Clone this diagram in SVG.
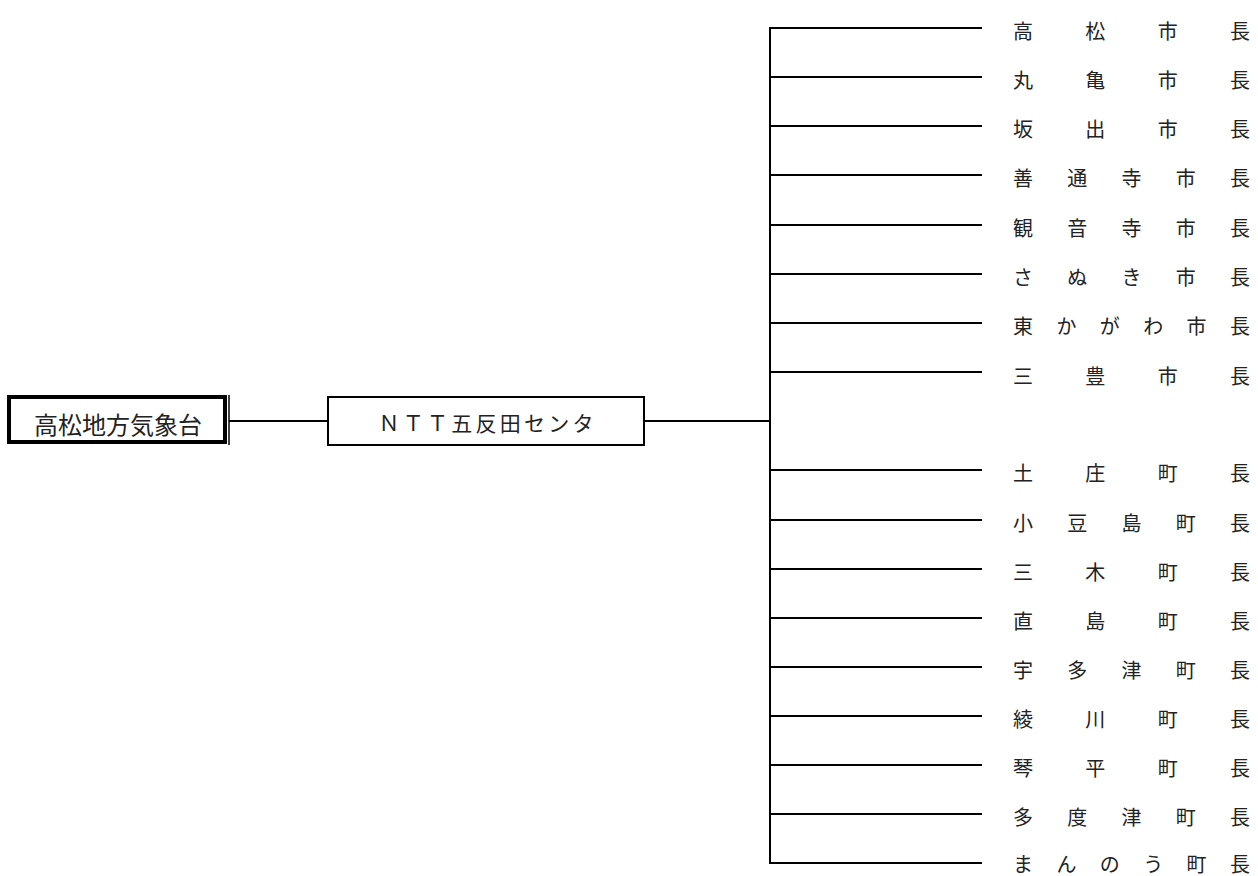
<svg xmlns="http://www.w3.org/2000/svg" width="1258" height="876" viewBox="0 0 1258 876">
<style>
.ln{stroke:#000;stroke-width:2;fill:none}
.lbl{font-family:"Noto Sans CJK JP","Noto Sans CJK SC",sans-serif;font-size:20px;fill:#222;text-anchor:middle;dominant-baseline:central}
.box{font-family:"Noto Sans CJK JP","Noto Sans CJK SC",sans-serif;fill:#222;dominant-baseline:central;text-anchor:middle}
</style>
<rect width="1258" height="876" fill="#fff"/>
<g id="connectors">
<line class="ln" x1="229" y1="421" x2="328" y2="421"/>
<line class="ln" x1="644" y1="421" x2="771" y2="421"/>
<line class="ln" x1="770" y1="27" x2="770" y2="864"/>
<line class="ln" x1="769" y1="28" x2="982" y2="28"/>
<line class="ln" x1="769" y1="77" x2="982" y2="77"/>
<line class="ln" x1="769" y1="126" x2="982" y2="126"/>
<line class="ln" x1="769" y1="175" x2="982" y2="175"/>
<line class="ln" x1="769" y1="225" x2="982" y2="225"/>
<line class="ln" x1="769" y1="274" x2="982" y2="274"/>
<line class="ln" x1="769" y1="323" x2="982" y2="323"/>
<line class="ln" x1="769" y1="372" x2="982" y2="372"/>
<line class="ln" x1="769" y1="470" x2="982" y2="470"/>
<line class="ln" x1="769" y1="520" x2="982" y2="520"/>
<line class="ln" x1="769" y1="569" x2="982" y2="569"/>
<line class="ln" x1="769" y1="618" x2="982" y2="618"/>
<line class="ln" x1="769" y1="667" x2="982" y2="667"/>
<line class="ln" x1="769" y1="716" x2="982" y2="716"/>
<line class="ln" x1="769" y1="765" x2="982" y2="765"/>
<line class="ln" x1="769" y1="814" x2="982" y2="814"/>
<line class="ln" x1="769" y1="863" x2="982" y2="863"/>
</g>
<g id="takamatsu-kishodai">
<rect x="9" y="397" width="216" height="45" fill="none" stroke="#000" stroke-width="4"/>
<line x1="229" y1="395" x2="229" y2="445" stroke="#000" stroke-width="1.5"/>
<text class="box" x="118" y="423" font-size="24">高松地方気象台</text>
</g>
<g id="ntt-gotanda">
<rect x="328" y="397" width="316" height="48" fill="none" stroke="#000" stroke-width="2"/>
<text class="box" x="486" y="422" font-size="21" textLength="215" lengthAdjust="spacing">ＮＴＴ五反田センタ</text>
</g>
<g id="r0"><text class="lbl" x="1023 1095.3 1167.7 1240" y="30">高松市長</text></g>
<g id="r1"><text class="lbl" x="1023 1095.3 1167.7 1240" y="79">丸亀市長</text></g>
<g id="r2"><text class="lbl" x="1023 1095.3 1167.7 1240" y="128">坂出市長</text></g>
<g id="r3"><text class="lbl" x="1023 1077.25 1131.5 1185.75 1240" y="177">善通寺市長</text></g>
<g id="r4"><text class="lbl" x="1023 1077.25 1131.5 1185.75 1240" y="227">観音寺市長</text></g>
<g id="r5"><text class="lbl" x="1023 1077.25 1131.5 1185.75 1240" y="276">さぬき市長</text></g>
<g id="r6"><text class="lbl" x="1023 1066.4 1109.8 1153.2 1196.6 1240" y="325">東かがわ市長</text></g>
<g id="r7"><text class="lbl" x="1023 1095.3 1167.7 1240" y="375">三豊市長</text></g>
<g id="r9"><text class="lbl" x="1023 1095.3 1167.7 1240" y="472">土庄町長</text></g>
<g id="r10"><text class="lbl" x="1023 1077.25 1131.5 1185.75 1240" y="522">小豆島町長</text></g>
<g id="r11"><text class="lbl" x="1023 1095.3 1167.7 1240" y="571">三木町長</text></g>
<g id="r12"><text class="lbl" x="1023 1095.3 1167.7 1240" y="620">直島町長</text></g>
<g id="r13"><text class="lbl" x="1023 1077.25 1131.5 1185.75 1240" y="669">宇多津町長</text></g>
<g id="r14"><text class="lbl" x="1023 1095.3 1167.7 1240" y="718">綾川町長</text></g>
<g id="r15"><text class="lbl" x="1023 1095.3 1167.7 1240" y="767">琴平町長</text></g>
<g id="r16"><text class="lbl" x="1023 1077.25 1131.5 1185.75 1240" y="816">多度津町長</text></g>
<g id="r17"><text class="lbl" x="1023 1066.4 1109.8 1153.2 1196.6 1240" y="863">まんのう町長</text></g>
</svg>
